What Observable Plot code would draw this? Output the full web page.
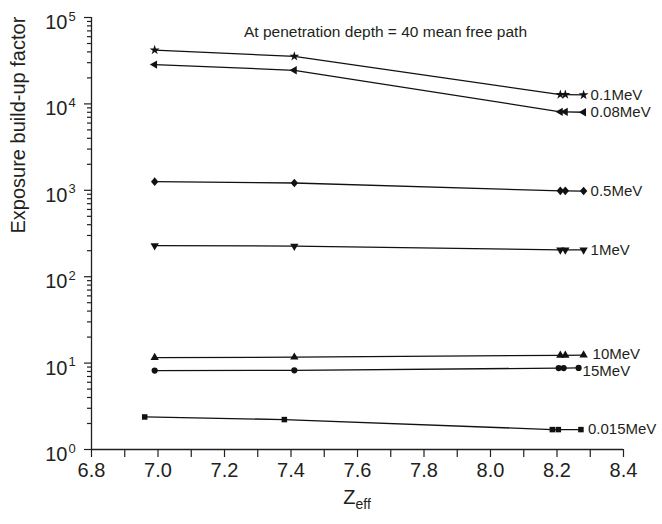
<!DOCTYPE html>
<html><head><meta charset="utf-8">
<script src="https://cdn.jsdelivr.net/npm/d3@7"></script>
<script src="https://cdn.jsdelivr.net/npm/@observablehq/plot@0.6"></script>
<style>
body{margin:0;background:#fff}
svg{display:block}
</style>
</head><body><div id="chart"></div>
<script>
// ---- data ----
const energies = ["0.1MeV","0.08MeV","0.5MeV","1MeV","10MeV","15MeV","0.015MeV"];
const zeffMain   = [6.99, 7.41, 8.21, 8.225, 8.28];
const zeffCircle = [6.99, 7.41, 8.205, 8.22, 8.265];
const zeffSquare = [6.96, 7.38, 8.186, 8.204, 8.272];
const b_0_1MeV   = [42000, 35500, 12800, 12800, 12700];
const b_0_08MeV  = [28500, 24500, 8100, 8100, 8000];
const b_0_5MeV   = [1260, 1215, 985, 985, 980];
const b_1MeV     = [229, 226, 204, 204, 204];
const b_10MeV    = [11.6, 11.7, 12.3, 12.3, 12.4];
const b_15MeV    = [8.2, 8.25, 8.75, 8.75, 8.8];
const b_0_015MeV = [2.38, 2.22, 1.70, 1.70, 1.70];
const xTicks = [6.8, 7.0, 7.2, 7.4, 7.6, 7.8, 8.0, 8.2, 8.4];
const xMinorTicks = [6.9, 7.1, 7.3, 7.5, 7.7, 7.9, 8.1, 8.3];
const yExponents = [0, 1, 2, 3, 4, 5];
const titleText = "At penetration depth = 40 mean free path";
const yLabel = "Exposure build-up factor";

// ---- build table ----
const seriesX = [zeffMain, zeffMain, zeffMain, zeffMain, zeffMain, zeffCircle, zeffSquare];
const seriesY = [b_0_1MeV, b_0_08MeV, b_0_5MeV, b_1MeV, b_10MeV, b_15MeV, b_0_015MeV];
const rows = [];
energies.forEach((e, i) => seriesX[i].forEach((x, j) => rows.push({series: e, x, y: seriesY[i][j]})));
const lastRows = energies.map(e => rows.filter(r => r.series === e).slice(-1)[0]);

// custom symbols
const s3 = Math.sqrt(3);
const triDown = {draw(ctx, size){const y = -Math.sqrt(size/(s3*3)); ctx.moveTo(0,-y*2); ctx.lineTo(-s3*y, y); ctx.lineTo(s3*y, y); ctx.closePath();}};
const triLeft = {draw(ctx, size){const y = -Math.sqrt(size/(s3*3)); ctx.moveTo(y*2,0); ctx.lineTo(-y, -s3*y); ctx.lineTo(-y, s3*y); ctx.closePath();}};
const rhomb = {draw(ctx, size){const a = Math.sqrt(size/2.2); ctx.moveTo(0,-a*1.15); ctx.lineTo(a,0); ctx.lineTo(0,a*1.15); ctx.lineTo(-a,0); ctx.closePath();}};
const symbolRange = [d3.symbolStar, triLeft, rhomb, triDown, d3.symbolTriangle, d3.symbolCircle, d3.symbolSquare];

const ink = "#231f20";
const yMajor = yExponents.map(e => 10 ** e);
const yMinor = [];
for (let e = 0; e < 5; e++) for (let k = 2; k <= 9; k++) yMinor.push(k * 10 ** e);

const labelMain = lastRows.filter(d => d.series !== "15MeV" && d.series !== "10MeV");
const label10 = lastRows.filter(d => d.series === "10MeV");
const label15 = lastRows.filter(d => d.series === "15MeV");

const chart = Plot.plot({
  width: 662, height: 524,
  marginLeft: 91, marginRight: 39, marginTop: 17, marginBottom: 75,
  style: {fontFamily: "Liberation Sans, Arial, sans-serif", color: ink, background: "#fff"},
  x: {domain: [6.8, 8.4]},
  y: {type: "log", domain: [1, 1e5]},
  symbol: {domain: energies, range: symbolRange},
  marks: [
    Plot.axisX({ticks: xMinorTicks, tickSize: 8, tickFormat: () => "", label: null, stroke: ink, strokeWidth: 1.2}),
    Plot.axisX({ticks: xTicks, tickSize: 8, tickPadding: 5, tickFormat: d3.format(".1f"), fontSize: 20, label: null, stroke: ink, strokeWidth: 1.2}),
    Plot.axisY({ticks: yMinor, tickSize: 4, tickFormat: () => "", label: null, stroke: ink, strokeWidth: 1.2}),
    Plot.axisY({ticks: yMajor, tickSize: 7, tickFormat: () => "", label: null, stroke: ink, strokeWidth: 1.2}),
    Plot.ruleX([6.8], {stroke: ink, strokeWidth: 1.3}),
    Plot.ruleY([1], {stroke: ink, strokeWidth: 1.3}),
    Plot.text(yExponents, {y: e => 10 ** e, frameAnchor: "left", text: () => "10", textAnchor: "end", dx: -24, dy: 5, fontSize: 20, fill: ink}),
    Plot.text(yExponents, {y: e => 10 ** e, frameAnchor: "left", text: e => String(e), textAnchor: "start", dx: -23, dy: -1, fontSize: 13, fill: ink}),
    Plot.text([yLabel], {frameAnchor: "left", rotate: -90, dx: -73, fontSize: 20, fill: ink}),
    Plot.text([titleText], {frameAnchor: "top", dx: 28, dy: 8, fontSize: 15.5, fill: ink}),
    Plot.line(rows, {x: "x", y: "y", z: "series", stroke: "#111", strokeWidth: 1.3}),
    Plot.dot(rows, {x: "x", y: "y", symbol: "series", r: 3.1, fill: "#111", stroke: "none"}),
    Plot.text(labelMain, {x: "x", y: "y", text: "series", textAnchor: "start", dx: 7, dy: 0, fontSize: 15, fill: ink}),
    Plot.text(label10, {x: "x", y: "y", text: "series", textAnchor: "start", dx: 9, dy: -1, fontSize: 15, fill: ink}),
    Plot.text(label15, {x: "x", y: "y", text: "series", textAnchor: "start", dx: 4, dy: 3, fontSize: 15, fill: ink})
  ]
});
document.getElementById("chart").appendChild(chart);

// x-axis label Z_eff with subscript
const svg = d3.select(chart);
const lab = svg.append("text")
  .attr("x", 357).attr("y", 504)
  .attr("text-anchor", "middle")
  .attr("fill", ink)
  .style("font-family", "Liberation Sans, Arial, sans-serif")
  .style("font-size", "20px");
lab.append("tspan").text("Z");
lab.append("tspan").attr("dy", 5).style("font-size", "14px").text("eff");
</script>
</body></html>
